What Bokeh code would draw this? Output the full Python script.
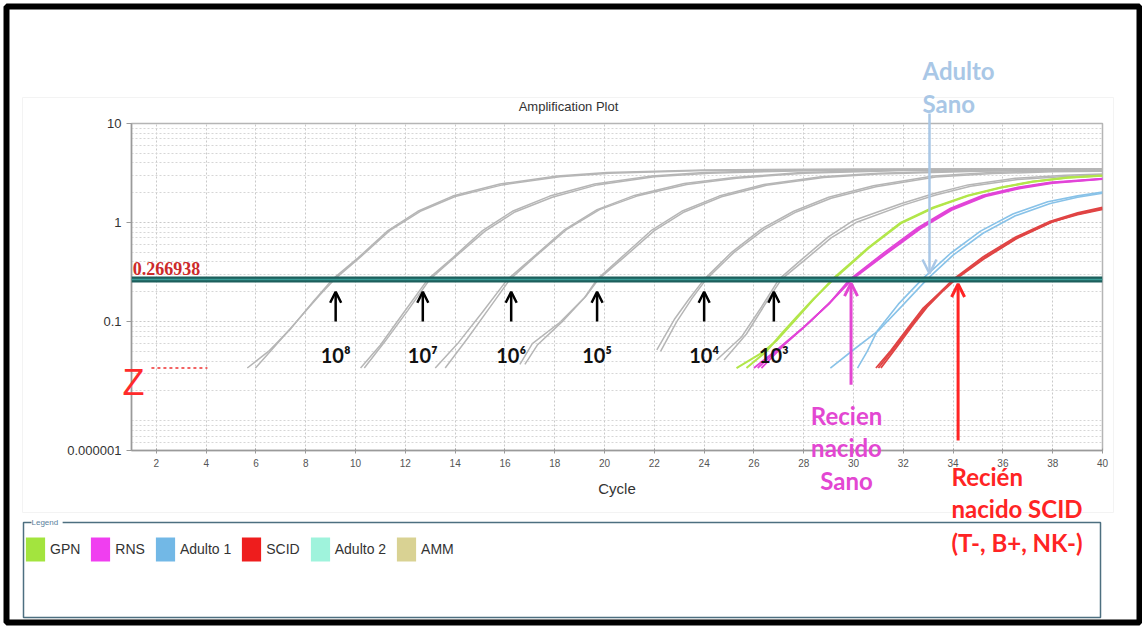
from bokeh.plotting import figure
from bokeh.models import (Range1d, FixedTicker, Span, Label, Arrow, OpenHead,
                          BoxAnnotation, Legend, LegendItem, GridBox, Column)
from bokeh.embed import file_html
from bokeh.resources import INLINE

# ---------------------------------------------------------------- data
THRESHOLD = 0.266938

# dilution standards (grey), two replicates each: (cycle, delta Rn)
std_e8_a = [(5.65, 0.034), (6.5, 0.050), (7.4, 0.085), (8.3, 0.16), (9.07, 0.267), (10.1, 0.44), (11.3, 0.83),
            (12.5, 1.3), (13.9, 1.85), (15.8, 2.45), (18.1, 2.95), (20.1, 3.2), (24, 3.4), (30, 3.48), (40, 3.5)]
std_e8_b = [(5.98, 0.034), (6.9, 0.062), (7.9, 0.12), (8.6, 0.19), (9.15, 0.267), (10.2, 0.45), (11.4, 0.84),
            (12.6, 1.3), (14.0, 1.83), (15.9, 2.4), (18.2, 2.9), (20.2, 3.15), (24, 3.35), (30, 3.42), (40, 3.45)]
std_e7_a = [(10.2, 0.034), (11.0, 0.058), (11.9, 0.12), (12.9, 0.267), (13.9, 0.44), (15.1, 0.83), (16.3, 1.3),
            (17.8, 1.85), (19.6, 2.45), (21.9, 2.95), (24, 3.2), (28, 3.38), (34, 3.45), (40, 3.47)]
std_e7_b = [(10.35, 0.034), (11.2, 0.064), (12.1, 0.13), (12.98, 0.267), (14.0, 0.45), (15.2, 0.82), (16.4, 1.28),
            (17.9, 1.8), (19.7, 2.4), (22, 2.9), (24.2, 3.15), (28, 3.33), (34, 3.4), (40, 3.43)]
std_e6_a = [(13.2, 0.034), (14.1, 0.06), (15.1, 0.125), (16.1, 0.267), (17.1, 0.44), (18.4, 0.85), (19.7, 1.35),
            (21.2, 1.88), (23.2, 2.48), (25.2, 2.85), (27.9, 3.2), (32, 3.4), (40, 3.47)]
std_e6_b = [(13.6, 0.034), (14.5, 0.068), (15.4, 0.14), (16.2, 0.267), (17.2, 0.45), (18.5, 0.86), (19.8, 1.35),
            (21.3, 1.85), (23.3, 2.42), (25.3, 2.8), (28, 3.15), (32, 3.35), (40, 3.42)]
std_e5_a = [(16.6, 0.037), (17.1, 0.06), (18.2, 0.098), (19.2, 0.175), (19.7, 0.267), (20.7, 0.45), (21.9, 0.84),
            (23.1, 1.3), (24.6, 1.85), (26.4, 2.42), (28.7, 2.9), (31, 3.15), (35, 3.35), (40, 3.42)]
std_e5_b = [(16.8, 0.037), (17.3, 0.058), (18.3, 0.1), (19.25, 0.18), (19.75, 0.267), (20.8, 0.45), (22.0, 0.83),
            (23.2, 1.28), (24.7, 1.82), (26.5, 2.38), (28.8, 2.85), (31, 3.1), (35, 3.3), (40, 3.38)]
std_e4_a = [(22.1, 0.052), (22.8, 0.105), (23.4, 0.17), (24.0, 0.267), (25.1, 0.5), (26.3, 0.86), (27.6, 1.3),
            (29.0, 1.8), (30.8, 2.35), (33.2, 2.95), (35.5, 3.2), (38, 3.32), (40, 3.36)]
std_e4_b = [(22.25, 0.05), (22.9, 0.1), (23.5, 0.17), (24.08, 0.267), (25.2, 0.5), (26.4, 0.85), (27.7, 1.28),
            (29.1, 1.76), (30.9, 2.3), (33.3, 2.88), (35.6, 3.12), (38, 3.25), (40, 3.3)]
std_e3_a = [(24.5, 0.041), (25.5, 0.07), (26.3, 0.14), (27.0, 0.267), (27.9, 0.42), (29.0, 0.72), (30.0, 1.05),
            (31.9, 1.55), (33.2, 1.95), (34.6, 2.4), (36.5, 2.8), (38.5, 3.0), (40, 3.1)]
std_e3_b = [(24.8, 0.041), (25.7, 0.075), (26.45, 0.15), (27.1, 0.267), (28.0, 0.41), (29.1, 0.7), (30.1, 1.0),
            (32.0, 1.5), (33.3, 1.9), (34.7, 2.33), (36.6, 2.72), (38.5, 2.92), (40, 3.02)]

# patient samples
gpn_a = [(25.3, 0.034), (26.3, 0.048), (26.9, 0.064), (27.6, 0.10), (28.35, 0.163), (29.15, 0.267), (30.6, 0.56),
         (31.9, 1.0), (33.2, 1.42), (34.6, 1.88), (35.9, 2.26), (37.2, 2.6), (38.6, 2.85), (40, 2.98)]
gpn_b = [(25.7, 0.034), (26.5, 0.05), (27.1, 0.075), (27.7, 0.11), (28.4, 0.17), (29.2, 0.267), (30.6, 0.55),
         (31.9, 0.98), (33.2, 1.4), (34.6, 1.86), (35.9, 2.24), (37.2, 2.58), (38.6, 2.83), (40, 2.96)]
rns_a = [(26.0, 0.034), (27.0, 0.054), (28.0, 0.088), (29.0, 0.15), (29.85, 0.267), (31.2, 0.49), (32.6, 0.89),
         (33.9, 1.39), (35.2, 1.88), (36.6, 2.26), (37.9, 2.54), (40, 2.78)]
rns_b = [(26.15, 0.034), (27.1, 0.056), (28.1, 0.092), (29.05, 0.155), (29.9, 0.267), (31.25, 0.48), (32.65, 0.88),
         (33.95, 1.37), (35.25, 1.86), (36.6, 2.24), (37.9, 2.52), (40, 2.76)]
rns_c = [(26.3, 0.034), (27.2, 0.058), (28.2, 0.097), (29.1, 0.16), (29.95, 0.267), (31.3, 0.48), (32.7, 0.87),
         (34.0, 1.36), (35.3, 1.84), (36.7, 2.22), (38.0, 2.5), (40, 2.74)]
adulto1_a = [(29.07, 0.034), (30.0, 0.052), (31.0, 0.081), (31.96, 0.145), (32.95, 0.267), (34.0, 0.47),
             (35.2, 0.78), (36.5, 1.17), (37.9, 1.56), (39.0, 1.8), (40, 1.98)]
adulto1_b = [(30.16, 0.034), (30.55, 0.05), (30.96, 0.081), (31.8, 0.15), (32.75, 0.267), (33.9, 0.49),
             (35.1, 0.82), (36.4, 1.22), (37.8, 1.62), (39.0, 1.86), (40, 2.03)]
scid_a = [(30.9, 0.034), (31.5, 0.051), (32.2, 0.087), (32.8, 0.137), (33.5, 0.2), (34.0, 0.267), (35.2, 0.45),
          (36.5, 0.71), (37.9, 1.03), (39, 1.25), (40, 1.42)]
scid_b = [(31.0, 0.034), (31.6, 0.053), (32.3, 0.09), (32.9, 0.14), (33.55, 0.205), (34.05, 0.267), (35.25, 0.44),
          (36.55, 0.70), (37.9, 1.0), (39, 1.22), (40, 1.38)]
scid_c = [(31.1, 0.034), (31.7, 0.054), (32.35, 0.09), (32.95, 0.14), (33.6, 0.205), (34.1, 0.267), (35.3, 0.44),
          (36.6, 0.7), (38, 1.02), (39, 1.2), (40, 1.36)]

STANDARDS = [std_e8_a, std_e8_b, std_e7_a, std_e7_b, std_e6_a, std_e6_b,
             std_e5_a, std_e5_b, std_e4_a, std_e4_b, std_e3_a, std_e3_b]
STANDARD_LABELS = ["10⁸", "10⁷", "10⁶", "10⁵", "10⁴", "10³"]
STANDARD_CT = [9.2, 12.7, 16.25, 19.7, 24.0, 26.8]

LEGEND_NAMES = ["GPN", "RNS", "Adulto 1", "SCID", "Adulto 2", "AMM"]
LEGEND_COLORS = ["#a3e43e", "#f03ef0", "#72b8e6", "#ee1d1d", "#9ff3dc", "#d9d293"]

X_TICKS = list(range(2, 41, 2))
Y_TICKS = [0.005, 0.1, 1, 10]
Y_TICK_TEXT = ["0.000001", "0.1", "1", "10"]

# ---------------------------------------------------------------- layout
W, H = 1142, 626
FL, FR, FT, FB = 131, 1102, 123, 450          # plot frame edges (canvas px)
X_MIN, X_MAX = 1, 40
Y_MIN, Y_MAX = 0.005, 10

MAG, RED, BLU = "#e347d2", "#ff2424", "#a9c7e6"

# ---------------------------------------------------------------- amplification plot
p = figure(width=W, height=H, x_range=Range1d(X_MIN, X_MAX), y_range=Range1d(Y_MIN, Y_MAX),
           y_axis_type="log", output_backend="svg", toolbar_location=None,
           min_border_left=FL, min_border_right=W - FR, min_border_top=FT, min_border_bottom=H - FB)
p.title.visible = False
p.background_fill_color = "white"
p.border_fill_color = "white"
p.outline_line_color = "#b5b5b5"
p.outline_line_width = 1.5

p.xaxis.ticker = FixedTicker(ticks=X_TICKS)
minor = [k * d for d in (0.001, 0.01, 0.1, 1) for k in range(2, 10)] + [0.01]
minor = [m for m in minor if Y_MIN < m < Y_MAX]
p.yaxis.ticker = FixedTicker(ticks=Y_TICKS, minor_ticks=minor)
p.yaxis.major_label_overrides = dict(zip(Y_TICKS, Y_TICK_TEXT))
for ax in (p.xaxis, p.yaxis):
    ax.axis_line_color = "#9a9a9a"
    ax.axis_line_width = 1.5
    ax.major_tick_line_color = "#9a9a9a"
    ax.minor_tick_line_color = None
    ax.major_label_text_font = "Liberation Sans"
p.xaxis.major_tick_in = 2
p.xaxis.major_tick_out = 3
p.yaxis.major_tick_in = 0
p.yaxis.major_tick_out = 5
p.xaxis.major_label_text_font_size = "10px"
p.xaxis.major_label_text_color = "#555555"
p.yaxis.major_label_text_font_size = "13px"
p.yaxis.major_label_text_color = "#333333"
p.xaxis.axis_label = "Cycle"
p.xaxis.axis_label_text_font = "Liberation Sans"
p.xaxis.axis_label_text_font_size = "15px"
p.xaxis.axis_label_text_font_style = "normal"
p.xaxis.axis_label_text_color = "#333333"
p.xaxis.axis_label_standoff = 10

p.xgrid.grid_line_color = "#c9c9c9"
p.xgrid.grid_line_dash = "2 2"
p.ygrid.grid_line_color = "#c9c9c9"
p.ygrid.grid_line_dash = "2 2"
p.ygrid.minor_grid_line_color = "#d6d6d6"
p.ygrid.minor_grid_line_dash = "2 2"

for curve in STANDARDS:
    p.line([c for c, _ in curve], [v for _, v in curve], line_color="#b6b6b6", line_width=1.5)

for curves, color, lw in [((gpn_a, gpn_b), "#b2e64a", 2.0),
                          ((rns_a, rns_b, rns_c), "#e244d8", 1.8),
                          ((adulto1_a, adulto1_b), "#88c2e8", 1.6),
                          ((scid_a, scid_b, scid_c), "#e04444", 1.8)]:
    for curve in curves:
        p.line([c for c, _ in curve], [v for _, v in curve], line_color=color, line_width=lw)

# threshold
p.add_layout(Span(location=THRESHOLD, dimension="width", line_color="#1c5f5c", line_width=6))
p.add_layout(Span(location=THRESHOLD, dimension="width", line_color="#3a9d97", line_width=1.5))
p.add_layout(Label(x=1.05, y=THRESHOLD, y_offset=4, text=f"{THRESHOLD:.6f}", text_baseline="bottom",
                   text_font="Liberation Serif", text_font_style="bold", text_font_size="18px",
                   text_color="#cc2a2a"))

# baseline start marker (dashes)
p.add_layout(Arrow(end=None, x_start=1.8, y_start=0.034, x_end=4.05, y_end=0.034,
                   line_color="#ee3030", line_width=1.5, line_dash="3 3"))

# dilution arrows and labels
for ct, lab in zip(STANDARD_CT, STANDARD_LABELS):
    p.add_layout(Arrow(end=OpenHead(size=11, line_color="black", line_width=2.5),
                       x_start=ct, y_start=0.1, x_end=ct, y_end=0.2,
                       line_color="black", line_width=2.5))
    p.add_layout(Label(x=ct, y=0.046, text=lab, text_align="center", text_baseline="middle",
                       text_font="Lato", text_font_style="bold", text_font_size="20px", text_color="#111111"))

# sample arrows
p.add_layout(Arrow(end=OpenHead(size=13, line_color=MAG, line_width=3), x_start=29.9, y_start=0.023,
                   x_end=29.9, y_end=0.245, line_color=MAG, line_width=3))
p.add_layout(Arrow(end=OpenHead(size=13, line_color=RED, line_width=3), x_start=34.2, y_start=0.0063,
                   x_end=34.2, y_end=0.24, line_color=RED, line_width=3))

# ---------------------------------------------------------------- overlay (canvas pixels)
d = figure(width=W, height=H, x_range=Range1d(0, W), y_range=Range1d(H, 0), output_backend="svg",
           toolbar_location=None, min_border=0, x_axis_location=None, y_axis_location=None)
d.title.visible = False
d.grid.visible = False
d.outline_line_color = None
d.background_fill_alpha = 0
d.border_fill_alpha = 0

# faint panel edge behind everything else
d.add_layout(BoxAnnotation(left=22, right=1113, top=97, bottom=512, fill_alpha=0,
                           line_color="#f3f3f3", line_alpha=1, line_width=1))

d.add_layout(Label(x=568, y=106, text="Amplification Plot", text_align="center", text_baseline="middle",
                   text_font="Liberation Sans", text_font_size="13px", text_color="#333333"))

d.add_layout(Label(x=122, y=382, text="Z", text_baseline="middle", text_font="Liberation Sans",
                   text_font_size="36px", text_color="#ff2b2b"))

for txt, py in [("Recien", 415), ("nacido", 447), ("Sano", 480)]:
    d.add_layout(Label(x=846, y=py, text=txt, text_align="center", text_baseline="middle",
                       text_font="Lato", text_font_style="bold", text_font_size="24px", text_color=MAG,
                       background_fill_color="white", background_fill_alpha=0))
for txt, py in [("Recién", 476), ("nacido SCID", 508), ("(T-, B+, NK-)", 542)]:
    d.add_layout(Label(x=951, y=py, text=txt, text_align="left", text_baseline="middle",
                       text_font="Lato", text_font_style="bold", text_font_size="24px", text_color=RED))

d.add_layout(Arrow(end=OpenHead(size=14, line_color=BLU, line_width=2.5), x_start=929, y_start=113,
                   x_end=929, y_end=273, line_color=BLU, line_width=2.5))
for txt, py in [("Adulto", 70), ("Sano", 103)]:
    d.add_layout(Label(x=922, y=py, text=txt, text_align="left", text_baseline="middle",
                       text_font="Lato", text_font_style="bold", text_font_size="24px", text_color=BLU))

# legend: one square swatch proxy per sample group, kept off-canvas so only the legend shows it
items = []
for name, color in zip(LEGEND_NAMES, LEGEND_COLORS):
    r = d.quad(left=[-40], right=[-30], top=[-40], bottom=[-30], fill_color=color, line_color=None)
    items.append(LegendItem(label=name, renderers=[r]))
legend = Legend(items=items, orientation="horizontal", location=(23, H - 564),
                glyph_width=24, glyph_height=30, label_standoff=3, spacing=8, padding=0, margin=0,
                border_line_alpha=0, background_fill_alpha=0, label_text_font="Liberation Sans",
                label_text_font_size="14px", label_text_color="#333333")
d.add_layout(legend)

d.add_layout(BoxAnnotation(left=23, right=1100, top=522, bottom=617, fill_alpha=0,
                           line_color="#4d6f80", line_alpha=1, line_width=1.5))
d.add_layout(Label(x=31, y=522, text=" Legend ", text_baseline="middle", text_font="Liberation Sans",
                   text_font_size="8px", text_color="#5b7f9c", background_fill_color="white"))

# outer frame
d.add_layout(BoxAnnotation(left=6, right=1139, top=6, bottom=622, fill_alpha=0,
                           line_color="black", line_alpha=1, line_width=6))

# stack both canvases in the same grid cell; the column wrappers keep their frames independent
page = GridBox(children=[(Column(children=[p]), 0, 0), (Column(children=[d]), 0, 0)])
open("out.html", "w").write(file_html(page, INLINE))
